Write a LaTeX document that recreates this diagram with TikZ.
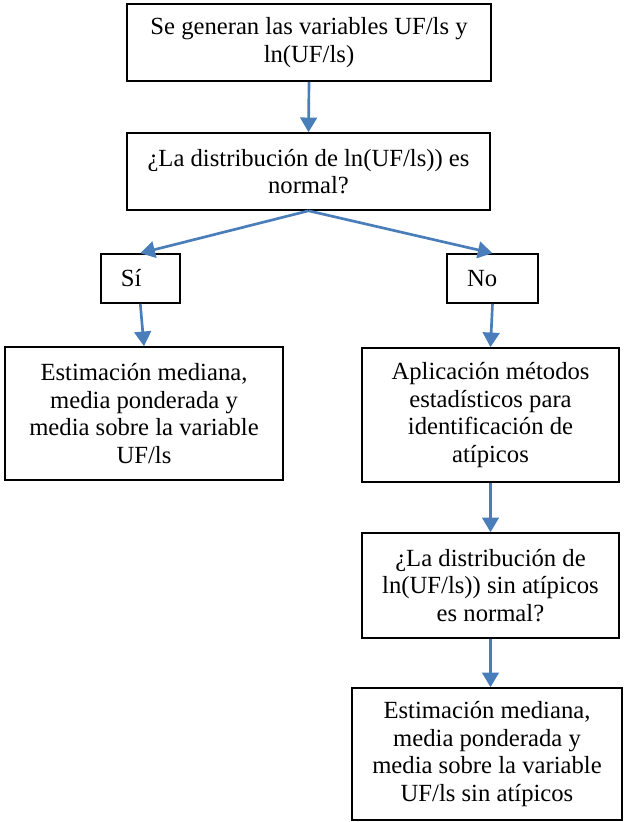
\documentclass[tikz,border=0pt]{standalone}
\usepackage{fontspec}
\setmainfont{Liberation Serif}
\usepackage{tikz}
\usetikzlibrary{arrows.meta}

\begin{document}
\begin{tikzpicture}[x=0.75pt,y=0.75pt,yscale=-1,xscale=1,
  caja/.style={draw=black,line width=1.2pt,fill=white,align=center,inner sep=2pt,
    font=\fontsize{18.5}{20.6}\selectfont},
  flecha/.style={draw={rgb, 255:red, 74; green, 126; blue, 187 },line width=2pt,
    -{Triangle[width=12.5pt,length=11pt]}}]
  %set diagram size to 630 x 822
  \useasboundingbox (0,0) rectangle (630,822);

  %Shape: Rectangle [id:genera]
  \node (genera) at (309,42.5) [caja,minimum width=273pt,minimum height=57.75pt]
    {Se generan las variables UF/ls y\\ln(UF/ls)};
  %Shape: Rectangle [id:pregunta]
  \node (pregunta) at (308.5,171.5) [caja,minimum width=272.25pt,minimum height=57.75pt]
    {¿La distribución de ln(UF/ls)) es\\normal?};
  %Shape: Rectangle [id:si]
  \node (si) at (140.3,278.5) [caja,align=left,text width=29.25pt,inner xsep=15pt,minimum height=36.75pt] {Sí};
  %Shape: Rectangle [id:no]
  \node (no) at (492.5,278.5) [caja,align=left,text width=38.25pt,inner xsep=15pt,minimum height=36.75pt] {No};
  %Shape: Rectangle [id:estsi]
  \node (estsi) at (144,413.5) [caja,minimum width=208.5pt,minimum height=99.75pt]
    {Estimación mediana,\\media ponderada y\\media sobre la variable\\UF/ls};
  %Shape: Rectangle [id:aplica]
  \node (aplica) at (490.5,415) [caja,minimum width=192.75pt,minimum height=100.5pt]
    {Aplicación métodos\\estadísticos para\\identificación de\\atípicos};
  %Shape: Rectangle [id:preguntasin]
  \node (preguntasin) at (490.5,585.5) [caja,minimum width=192.75pt,minimum height=78.75pt]
    {¿La distribución de\\ln(UF/ls)) sin atípicos\\es normal?};
  %Shape: Rectangle [id:estno]
  \node (estno) at (487,754) [caja,minimum width=202.5pt,minimum height=99pt]
    {Estimación mediana,\\media ponderada y\\media sobre la variable\\UF/ls sin atípicos};

  %Straight Lines [id:arrows]
  \draw [flecha] (genera.south) -- (pregunta.north);
  \draw [flecha] (pregunta.south) -- (si.north);
  \draw [flecha] (pregunta.south) -- (no.north);
  \draw [flecha] (si.south) -- (estsi.north);
  \draw [flecha] (no.south) -- (aplica.north);
  \draw [flecha] (aplica.south) -- (preguntasin.north);
  \draw [flecha] (preguntasin.south) -- (preguntasin.south |- estno.north);

\end{tikzpicture}
\end{document}
